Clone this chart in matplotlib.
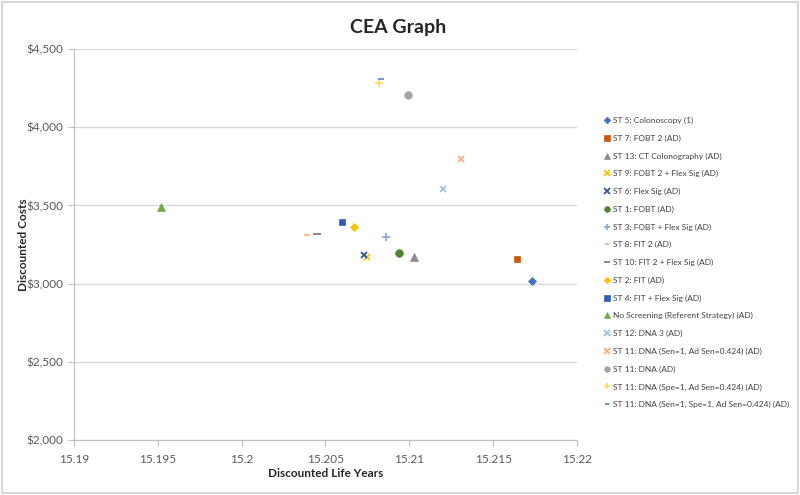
"""CEA scatter: discounted life years vs discounted costs per strategy."""
import numpy as np
import matplotlib
matplotlib.use("Agg")
import matplotlib.pyplot as plt
from matplotlib.patches import Rectangle
from matplotlib.ticker import FuncFormatter, MultipleLocator

plt.rcParams['font.family'] = ['Lato', 'DejaVu Sans']

STRATEGIES = [
    "ST 5: Colonoscopy (1)",
    "ST 7: FOBT 2 (AD)",
    "ST 13: CT Colonography (AD)",
    "ST 9: FOBT 2 + Flex Sig (AD)",
    "ST 6: Flex Sig (AD)",
    "ST 1: FOBT (AD)",
    "ST 3: FOBT + Flex Sig (AD)",
    "ST 8: FIT 2 (AD)",
    "ST 10: FIT 2 + Flex Sig (AD)",
    "ST 2: FIT (AD)",
    "ST 4: FIT + Flex Sig (AD)",
    "No Screening (Referent Strategy) (AD)",
    "ST 12: DNA 3 (AD)",
    "ST 11: DNA (Sen=1, Ad Sen=0.424) (AD)",
    "ST 11: DNA (AD)",
    "ST 11: DNA (Spe=1, Ad Sen=0.424) (AD)",
    "ST 11: DNA (Sen=1, Spe=1, Ad Sen=0.424) (AD)",
]
LIFE_YEARS = [15.2173, 15.2164, 15.2103, 15.2075, 15.2073, 15.2094, 15.2086,
              15.2039, 15.2045, 15.2067, 15.2060, 15.1952, 15.2120, 15.2131,
              15.2099, 15.2082, 15.2083]
COSTS = [3017, 3160, 3173, 3173, 3184, 3195, 3295, 3312, 3320, 3365, 3397,
         3489, 3606, 3798, 4208, 4282, 4310]

MARKERS = ["D", "s", "^", "x", "x", "o", "+", "_", "_", "D", "s", "^",
           "x", "x", "o", "+", "_"]
SIZES = [4.5, 5, 5.5, 5, 5, 5.5, 5.5, 4, 6, 4.5, 5, 5.5, 5, 5, 5.5, 5.5, 4]
COLORS = ["#4472C4", "#C55A11", "#8C8C8C", "#FFC000", "#2F5597", "#548235",
          "#8FAADC", "#F4B183", "#7F7F7F", "#FFC000", "#2F5FB3", "#70AD47",
          "#9DC3E6", "#F4B183", "#A5A5A5", "#FFD966", "#698ED0"]


def main():
    fig = plt.figure(figsize=(8, 4.95), dpi=100)
    ax = fig.add_axes([74 / 800, 1 - 440 / 495, (577 - 74) / 800, (440 - 49) / 495])

    for name, x, y, m, s, c in zip(STRATEGIES, LIFE_YEARS, COSTS, MARKERS, SIZES, COLORS):
        ax.plot([x], [y], linestyle="none", marker=m, ms=s, color=c,
                mec=c, mew=1.3 if m in ("x", "+", "_") else 0.5, label=name)

    ax.set_xlim(15.19, 15.22)
    ax.set_ylim(2000, 4500)
    ax.xaxis.set_major_locator(MultipleLocator(0.005))
    ax.yaxis.set_major_locator(MultipleLocator(500))
    ax.xaxis.set_major_formatter(FuncFormatter(lambda v, p: f"{v:.3f}".rstrip("0").rstrip(".")))
    ax.yaxis.set_major_formatter(FuncFormatter(lambda v, p: f"${v:,.0f}"))
    ax.grid(True, axis="y", color="#D9D9D9", lw=1)
    ax.set_axisbelow(True)
    for side in ("top", "right"):
        ax.spines[side].set_visible(False)
    for side in ("left", "bottom"):
        ax.spines[side].set_color("#BFBFBF")
    ax.tick_params(axis="both", colors="#BFBFBF", labelcolor="#595959",
                   labelsize=8.5, length=4, direction="out")
    ax.tick_params(axis="x", pad=6)

    ax.set_xlabel("Discounted Life Years", fontsize=8.5, fontweight="bold",
                  color="#262626", labelpad=2)
    ax.set_ylabel("Discounted Costs", fontsize=8.5, fontweight="bold",
                  color="#262626", labelpad=-2)
    fig.text(398 / 800, 1 - 27 / 495, "CEA Graph", ha="center", va="center",
             fontsize=14, fontweight="bold", color="#262626")

    ax.legend(loc="upper left", bbox_to_anchor=(604 / 800, 1 - 117 / 495),
              bbox_transform=fig.transFigure, frameon=False, fontsize=6.0,
              handlelength=0.6, handletextpad=0.5, labelspacing=1.27,
              borderaxespad=0, borderpad=0, markerscale=0.75, labelcolor="#404040")

    fig.patches.append(Rectangle((0.003, 0.004), 0.994, 0.992, transform=fig.transFigure,
                                 fill=False, edgecolor="#D0D0D0", lw=1.2))
    fig.savefig("out.png", dpi=100)
    plt.close(fig)


if __name__ == "__main__":
    main()
